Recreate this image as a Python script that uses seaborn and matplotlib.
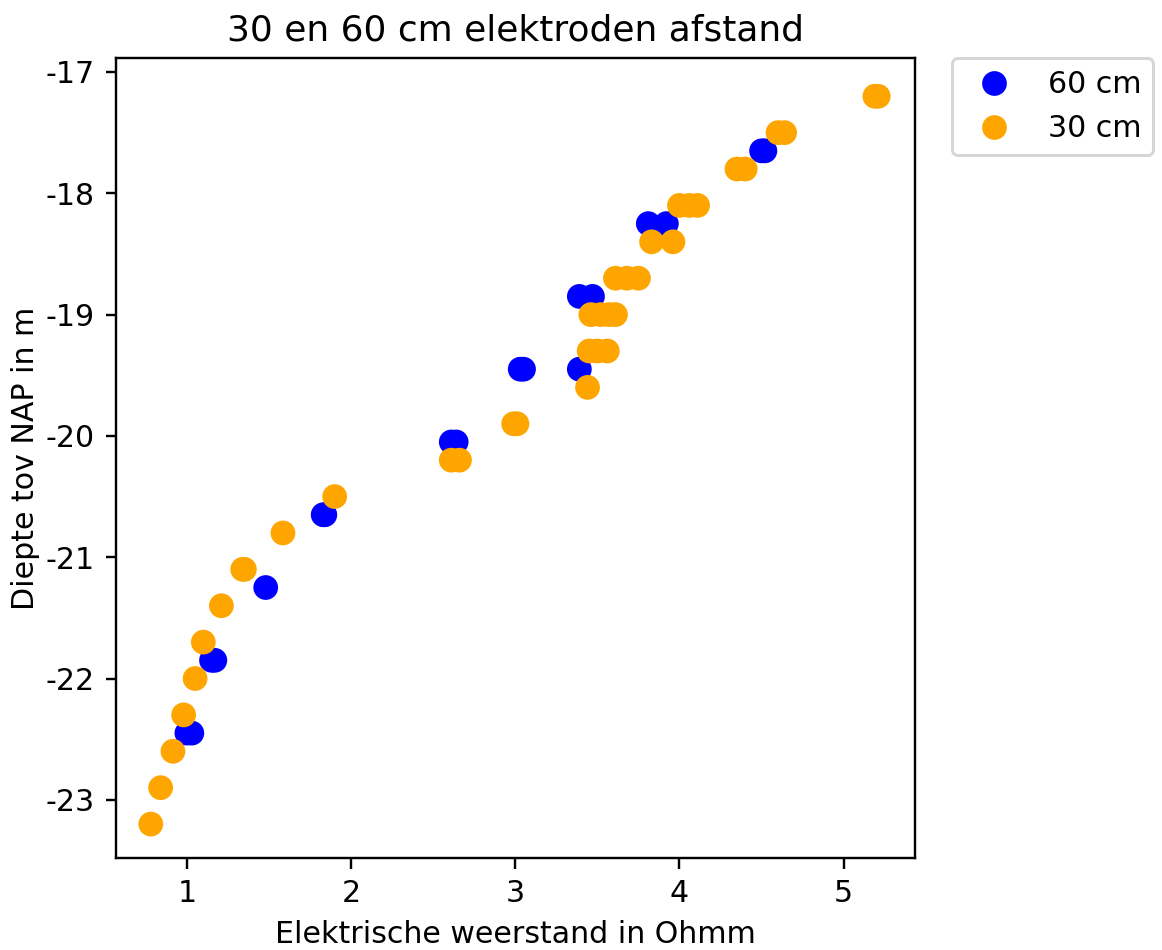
import matplotlib
matplotlib.use("Agg")
import matplotlib.pyplot as plt
import seaborn as sns
import pandas as pd

# 60 cm electrode spacing
x60 = [4.50, 4.52, 3.81, 3.92, 3.39, 3.47, 3.39, 3.03, 3.05, 2.61, 2.64,
       1.83, 1.84, 1.48, 1.15, 1.17, 1.00, 1.03]
y60 = [-17.65, -17.65, -18.25, -18.25, -18.85, -18.85, -19.45, -19.45, -19.45,
       -20.05, -20.05, -20.65, -20.65, -21.25, -21.85, -21.85, -22.45, -22.45]

# 30 cm electrode spacing
x30 = [5.19, 5.21, 4.60, 4.64, 4.35, 4.40, 4.00, 4.06, 4.11, 3.83, 3.96,
       3.61, 3.68, 3.75, 3.46, 3.52, 3.57, 3.61, 3.45, 3.50, 3.56, 3.44,
       2.99, 3.01, 2.61, 2.66, 1.90, 1.585, 1.34, 1.35, 1.21, 1.10, 1.05,
       0.98, 0.915, 0.84, 0.78]
y30 = [-17.2, -17.2, -17.5, -17.5, -17.8, -17.8, -18.1, -18.1, -18.1, -18.4, -18.4,
       -18.7, -18.7, -18.7, -19.0, -19.0, -19.0, -19.0, -19.3, -19.3, -19.3, -19.6,
       -19.9, -19.9, -20.2, -20.2, -20.5, -20.8, -21.1, -21.1, -21.4, -21.7, -22.0,
       -22.3, -22.6, -22.9, -23.2]

series = ["60 cm", "30 cm"]
colors = {"60 cm": "blue", "30 cm": "orange"}

df = pd.DataFrame({
    "x": x60 + x30,
    "y": y60 + y30,
    "afstand": [series[0]] * len(x60) + [series[1]] * len(x30),
})

plt.rcParams["axes.unicode_minus"] = False

DPI = 216
fig = plt.figure(figsize=(1162 / DPI, 950 / DPI), dpi=DPI)
ax = fig.add_axes([0.0998, 0.0968, 0.6876, 0.8421])

sns.scatterplot(data=df, x="x", y="y", hue="afstand", hue_order=series,
                palette=colors, s=68, linewidth=0, ax=ax)

ax.set_xlim(0.568, 5.434)
ax.set_ylim(-23.48, -16.885)
ax.set_xticks([1, 2, 3, 4, 5])
ax.set_yticks([-17, -18, -19, -20, -21, -22, -23])
ax.set_xlabel("Elektrische weerstand in Ohmm")
ax.set_ylabel("Diepte tov NAP in m", labelpad=2)
ax.set_title("30 en 60 cm elektroden afstand")
ax.legend(bbox_to_anchor=(1.046, 1.0), loc="upper left", borderaxespad=0)

fig.savefig("out.png", dpi=DPI)
